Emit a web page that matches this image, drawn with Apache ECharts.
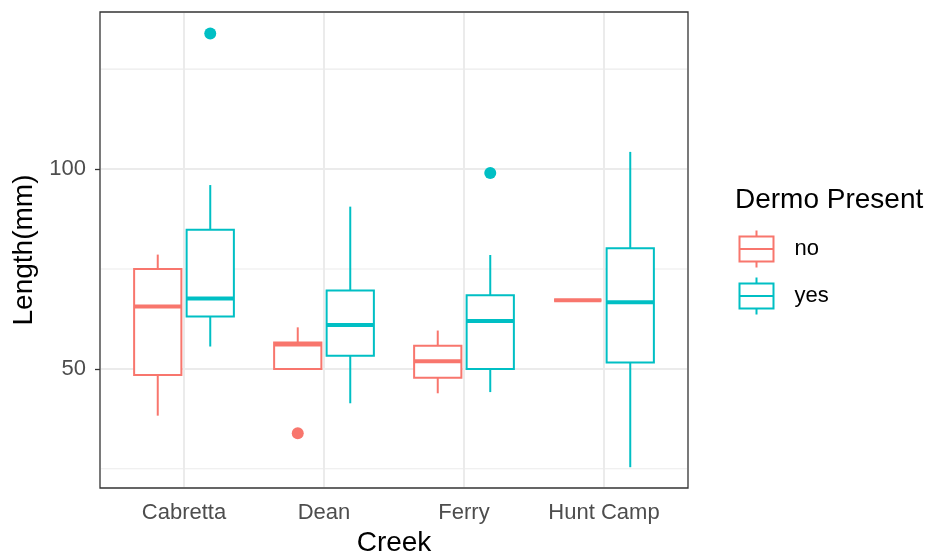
<!DOCTYPE html>
<html>
<head>
<meta charset="utf-8">
<script src="https://cdn.jsdelivr.net/npm/echarts@6.0.0/dist/echarts.min.js"></script>
<style>
  html, body { margin: 0; padding: 0; background: #fff; }
  #chart { width: 932px; height: 554px; }
</style>
</head>
<body>
<div id="chart"></div>
<script>
// categories
const creeks = ['Cabretta', 'Dean', 'Ferry', 'Hunt Camp'];
const groups = ['no', 'yes'];
// box stats per creek: [min, q1, median, q3, max]
const noStats = [
  [38.3, 48.5, 65.6, 75.0, 78.6],
  [50.0, 50.0, 56.1, 56.6, 60.4],
  [43.9, 47.8, 51.9, 55.8, 59.6],
  [67.2, 67.2, 67.2, 67.2, 67.2]
];
const yesStats = [
  [55.6, 63.1, 67.6, 84.8, 96.0],
  [41.4, 53.3, 61.0, 69.6, 90.6],
  [44.2, 50.0, 62.0, 68.4, 78.5],
  [25.4, 51.6, 66.7, 80.2, 104.3]
];
// outliers: [creek index, value]
const noOutliers = [[1, 33.9]];
const yesOutliers = [[0, 133.9], [2, 99.0]];
// y axis
const yMin = 20.2;
const yMax = 139.3;
const yTicks = [50, 100];
const yMinor = [25, 75, 125];

const colors = { no: '#F8766D', yes: '#00BFC4' };
const offsets = { no: -0.1875, yes: 0.1875 };
const boxFrac = 0.3375;
const gridColor = '#EBEBEB';

const legendIcon = 'path://M0,6 L34,6 L34,31 L0,31 Z M0,18.5 L34,18.5 M17,0 L17,6 M17,31 L17,37';

function boxRender(group) {
  const col = colors[group];
  return function (params, api) {
    const ci = api.value(0);
    const pMin = api.coord([ci, api.value(1)]);
    const pQ1 = api.coord([ci, api.value(2)]);
    const pMed = api.coord([ci, api.value(3)]);
    const pQ3 = api.coord([ci, api.value(4)]);
    const pMax = api.coord([ci, api.value(5)]);
    const bw = api.size([1, 0])[0];
    const cx = pMin[0] + offsets[group] * bw;
    const half = boxFrac * bw / 2;
    return {
      type: 'group',
      children: [
        { type: 'line', shape: { x1: cx, y1: pMax[1], x2: cx, y2: pQ3[1] }, style: { stroke: col, lineWidth: 2 } },
        { type: 'line', shape: { x1: cx, y1: pQ1[1], x2: cx, y2: pMin[1] }, style: { stroke: col, lineWidth: 2 } },
        { type: 'rect', shape: { x: cx - half, y: pQ3[1], width: half * 2, height: pQ1[1] - pQ3[1] },
          style: { fill: '#fff', stroke: col, lineWidth: 2 } },
        { type: 'line', shape: { x1: cx - half, y1: pMed[1], x2: cx + half, y2: pMed[1] }, style: { stroke: col, lineWidth: 4 } }
      ]
    };
  };
}

function outlierRender(group) {
  const col = colors[group];
  return function (params, api) {
    const p = api.coord([api.value(0), api.value(1)]);
    const bw = api.size([1, 0])[0];
    return {
      type: 'circle',
      shape: { cx: p[0] + offsets[group] * bw, cy: p[1], r: 6 },
      style: { fill: col }
    };
  };
}

// horizontal grid lines across the whole panel
function hGridRender(params, api) {
  const cs = params.coordSys;
  const y = api.coord([0, api.value(0)])[1];
  return {
    type: 'line',
    shape: { x1: cs.x + 1, y1: y, x2: cs.x + cs.width - 1, y2: y },
    style: { stroke: gridColor, lineWidth: api.value(1) }
  };
}

// vertical grid lines at each creek
function vGridRender(params, api) {
  const cs = params.coordSys;
  const x = api.coord([api.value(0), yMin])[0];
  return {
    type: 'line',
    shape: { x1: x, y1: cs.y + 1, x2: x, y2: cs.y + cs.height - 1 },
    style: { stroke: gridColor, lineWidth: 2 }
  };
}

const chart = echarts.init(document.getElementById('chart'));

const hLines = yMinor.map(v => [v, 1.1]).concat(yTicks.map(v => [v, 2]));

const option = {
  animation: false,
  textStyle: { fontFamily: 'Liberation Sans, Arial, sans-serif' },
  title: {
    text: 'Dermo Present',
    left: 735,
    top: 186,
    padding: 0,
    textStyle: { fontSize: 28, fontWeight: 'normal', color: '#000' }
  },
  legend: {
    orient: 'vertical',
    left: 737,
    top: 228,
    padding: 0,
    itemWidth: 34,
    itemHeight: 37,
    itemGap: 5,
    selectedMode: false,
    textStyle: { fontSize: 22, color: '#000', padding: [0, 0, 0, 16] },
    data: groups.map(g => ({
      name: g,
      icon: legendIcon,
      itemStyle: { color: 'none', borderColor: colors[g], borderWidth: 2 }
    }))
  },
  grid: [
    // panel with border
    { left: 100, right: 244, top: 12, bottom: 66, show: true, outerBoundsMode: 'none', containLabel: false,
      borderColor: '#333333', borderWidth: 1.3, backgroundColor: '#fff' },
    // data area for the creeks
    { left: 114, right: 258, top: 12, bottom: 66, show: false, outerBoundsMode: 'none', containLabel: false }
  ],
  xAxis: [
    { gridIndex: 0, type: 'value', min: 0, max: 1, show: false },
    {
      gridIndex: 1,
      type: 'category',
      data: creeks,
      name: 'Creek',
      nameLocation: 'middle',
      nameGap: 39,
      nameTextStyle: { fontSize: 28, color: '#000' },
      axisLine: { show: false },
      axisTick: { alignWithLabel: true, length: 5, lineStyle: { color: '#333333', width: 1.3 } },
      axisLabel: { interval: 0, fontSize: 22, color: '#4D4D4D', margin: 14 },
      splitLine: { show: false }
    }
  ],
  yAxis: [
    {
      gridIndex: 0,
      type: 'value',
      min: yMin,
      max: yMax,
      name: 'Length(mm)',
      nameLocation: 'middle',
      nameGap: 52,
      nameTextStyle: { fontSize: 28, color: '#000' },
      axisLine: { show: false },
      axisTick: { show: true, length: 5, customValues: yTicks, lineStyle: { color: '#333333', width: 1.3 } },
      axisLabel: { fontSize: 22, color: '#4D4D4D', margin: 14, customValues: yTicks },
      splitLine: { show: false }
    },
    { gridIndex: 1, type: 'value', min: yMin, max: yMax, show: false }
  ],
  series: [
    {
      type: 'custom',
      xAxisIndex: 0,
      yAxisIndex: 0,
      z: 1,
      silent: true,
      renderItem: hGridRender,
      encode: { y: 0 },
      data: hLines
    },
    {
      type: 'custom',
      xAxisIndex: 1,
      yAxisIndex: 1,
      z: 1,
      silent: true,
      renderItem: vGridRender,
      encode: { x: 0 },
      data: creeks.map((c, i) => [i])
    },
    {
      name: 'no',
      type: 'custom',
      xAxisIndex: 1,
      yAxisIndex: 1,
      z: 3,
      itemStyle: { color: colors.no },
      renderItem: boxRender('no'),
      encode: { x: 0, y: [1, 2, 3, 4, 5] },
      data: noStats.map((s, i) => [i].concat(s))
    },
    {
      name: 'yes',
      type: 'custom',
      xAxisIndex: 1,
      yAxisIndex: 1,
      z: 3,
      itemStyle: { color: colors.yes },
      renderItem: boxRender('yes'),
      encode: { x: 0, y: [1, 2, 3, 4, 5] },
      data: yesStats.map((s, i) => [i].concat(s))
    },
    {
      name: 'no',
      type: 'custom',
      xAxisIndex: 1,
      yAxisIndex: 1,
      z: 4,
      itemStyle: { color: colors.no },
      renderItem: outlierRender('no'),
      encode: { x: 0, y: 1 },
      data: noOutliers
    },
    {
      name: 'yes',
      type: 'custom',
      xAxisIndex: 1,
      yAxisIndex: 1,
      z: 4,
      itemStyle: { color: colors.yes },
      renderItem: outlierRender('yes'),
      encode: { x: 0, y: 1 },
      data: yesOutliers
    }
  ]
};

chart.setOption(option);
</script>
</body>
</html>
